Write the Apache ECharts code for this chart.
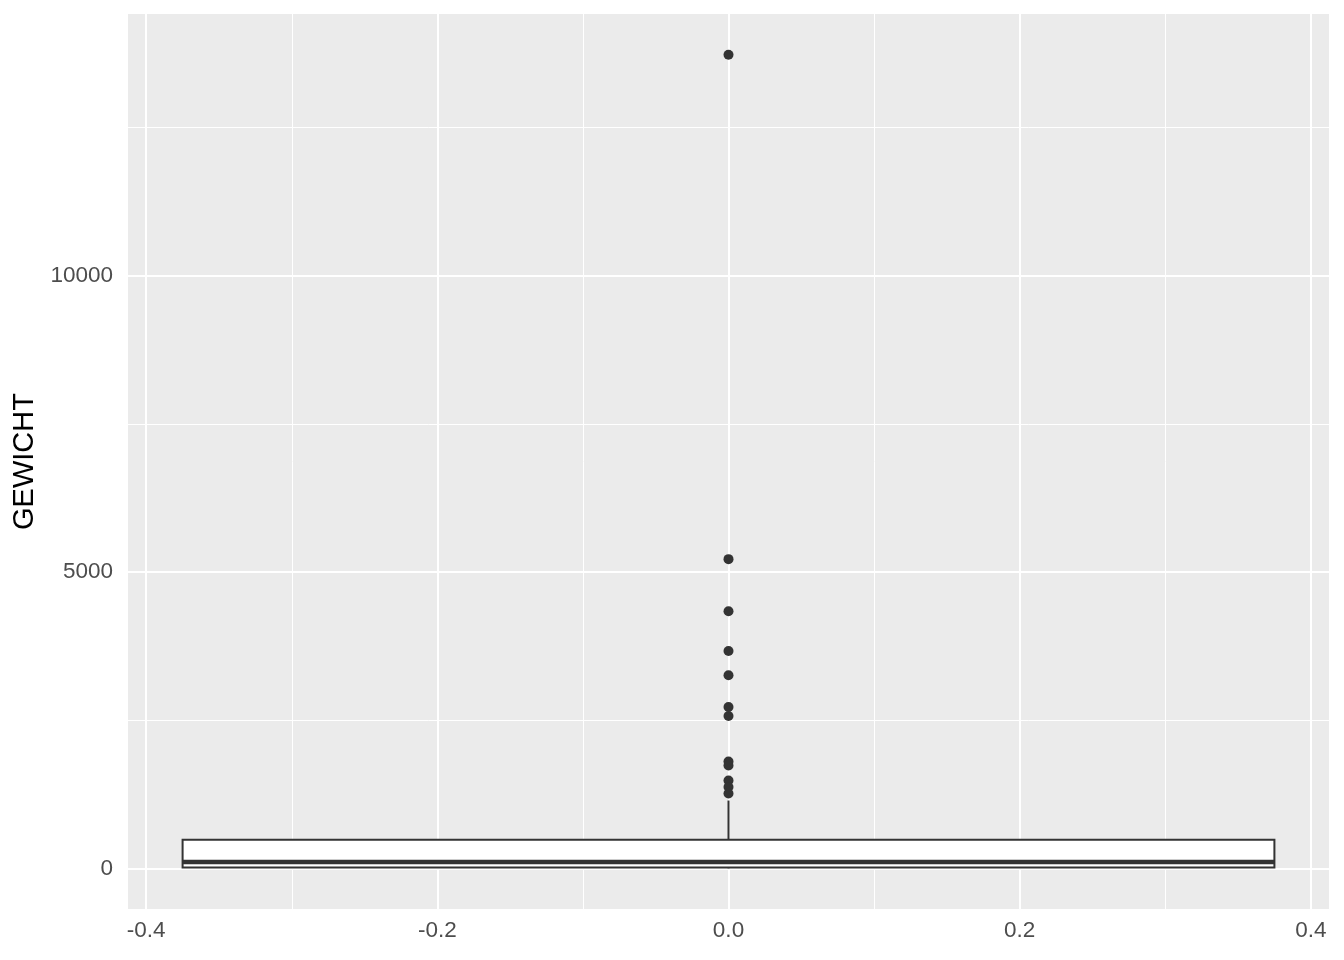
<!DOCTYPE html>
<html>
<head>
<meta charset="utf-8">
<script src="https://cdn.jsdelivr.net/npm/echarts@6/dist/echarts.min.js"></script>
<style>
html,body{margin:0;padding:0;background:#fff;}
#chart{width:1344px;height:960px;}
</style>
</head>
<body>
<div id="chart"></div>
<script>
// ---- data ----
const boxRange = [-0.375, 0.375];             // box extent on x
const boxStats = [0, 12, 105, 480, 1144];     // lower whisker, Q1, median, Q3, upper whisker
const outliers = [13730, 5217, 4338, 3667, 3258, 2721, 2569, 1803, 1736, 1483, 1373, 1263];
const xTicks = [-0.4, -0.2, 0, 0.2, 0.4];
const xMinor = [-0.3, -0.1, 0.1, 0.3];
const yTicks = [0, 5000, 10000];
const yMinor = [2500, 7500, 12500];
const yName = 'GEWICHT';

const dataMax = Math.max(...outliers), dataMin = boxStats[0];
const span = dataMax - dataMin;
const yMin = dataMin - 0.05 * span, yMax = dataMax + 0.05 * span;
const xMin = boxRange[0] - 0.05 * (boxRange[1] - boxRange[0]);
const xMax = boxRange[1] + 0.05 * (boxRange[1] - boxRange[0]);

const chart = echarts.init(document.getElementById('chart'), null, {renderer: 'canvas'});

const gridLines = [];
xTicks.forEach(v => gridLines.push({xAxis: v, lineStyle: {width: 2}}));
xMinor.forEach(v => gridLines.push({xAxis: v, lineStyle: {width: 1}}));
yTicks.forEach(v => gridLines.push({yAxis: v, lineStyle: {width: 2}}));
yMinor.forEach(v => gridLines.push({yAxis: v, lineStyle: {width: 1}}));

const dark = '#333333';

chart.setOption({
  animation: false,
  backgroundColor: '#ffffff',
  textStyle: {fontFamily: 'Liberation Sans, Arial, sans-serif'},
  grid: {left: 128, top: 14, right: 15, bottom: 51, show: true, backgroundColor: '#EBEBEB', borderWidth: 0},
  xAxis: {
    type: 'value', min: xMin, max: xMax,
    axisLine: {show: false},
    splitLine: {show: false},
    axisTick: {show: true, customValues: xTicks, length: 7, lineStyle: {color: dark, width: 2}},
    axisLabel: {customValues: xTicks, color: '#4D4D4D', fontSize: 22.5, margin: 10,
      fontFamily: 'Liberation Sans', formatter: v => v.toFixed(1)}
  },
  yAxis: {
    type: 'value', min: yMin, max: yMax,
    name: yName, nameLocation: 'middle', nameGap: 86, nameRotate: 90,
    nameTextStyle: {color: '#000', fontSize: 29, fontFamily: 'Liberation Sans'},
    axisLine: {show: false},
    splitLine: {show: false},
    axisTick: {show: true, customValues: yTicks, length: 7, lineStyle: {color: dark, width: 2}},
    axisLabel: {customValues: yTicks, color: '#4D4D4D', fontSize: 22.5, margin: 15,
      fontFamily: 'Liberation Sans', formatter: v => String(v)}
  },
  series: [
    {
      type: 'scatter', data: [], z: 1, silent: true,
      markLine: {silent: true, z: 1, symbol: ['none', 'none'], label: {show: false},
        lineStyle: {color: '#ffffff', type: 'solid'}, animation: false, data: gridLines}
    },
    {
      type: 'custom', z: 10, silent: true,
      data: [[boxRange[0], boxRange[1], ...boxStats]],
      encode: {x: [0, 1], y: [2, 3, 4, 5, 6]},
      renderItem: function (params, api) {
        const x0 = api.value(0), x1 = api.value(1);
        const lo = api.value(2), q1 = api.value(3), med = api.value(4), q3 = api.value(5), hi = api.value(6);
        const pTL = api.coord([x0, q3]);
        const pBR = api.coord([x1, q1]);
        const pMedL = api.coord([x0, med]);
        const pMedR = api.coord([x1, med]);
        const cx = api.coord([(x0 + x1) / 2, hi]);
        const pQ3 = api.coord([(x0 + x1) / 2, q3]);
        const pQ1 = api.coord([(x0 + x1) / 2, q1]);
        const pLo = api.coord([(x0 + x1) / 2, lo]);
        const st = {stroke: dark, lineWidth: 2, fill: null};
        return {
          type: 'group',
          children: [
            {type: 'line', shape: {x1: cx[0], y1: cx[1], x2: pQ3[0], y2: pQ3[1]}, style: st},
            {type: 'line', shape: {x1: pQ1[0], y1: pQ1[1], x2: pLo[0], y2: pLo[1]}, style: st},
            {type: 'rect', shape: {x: pTL[0], y: pTL[1], width: pBR[0] - pTL[0], height: pBR[1] - pTL[1]},
              style: {fill: '#ffffff', stroke: dark, lineWidth: 2}},
            {type: 'line', shape: {x1: pMedL[0], y1: pMedL[1], x2: pMedR[0], y2: pMedR[1]},
              style: {stroke: dark, lineWidth: 4.5}}
          ]
        };
      }
    },
    {
      type: 'scatter', z: 11, silent: true,
      data: outliers.map(v => [0, v]),
      symbol: 'circle', symbolSize: 10,
      itemStyle: {color: dark, opacity: 1}
    }
  ]
});
</script>
</body>
</html>
